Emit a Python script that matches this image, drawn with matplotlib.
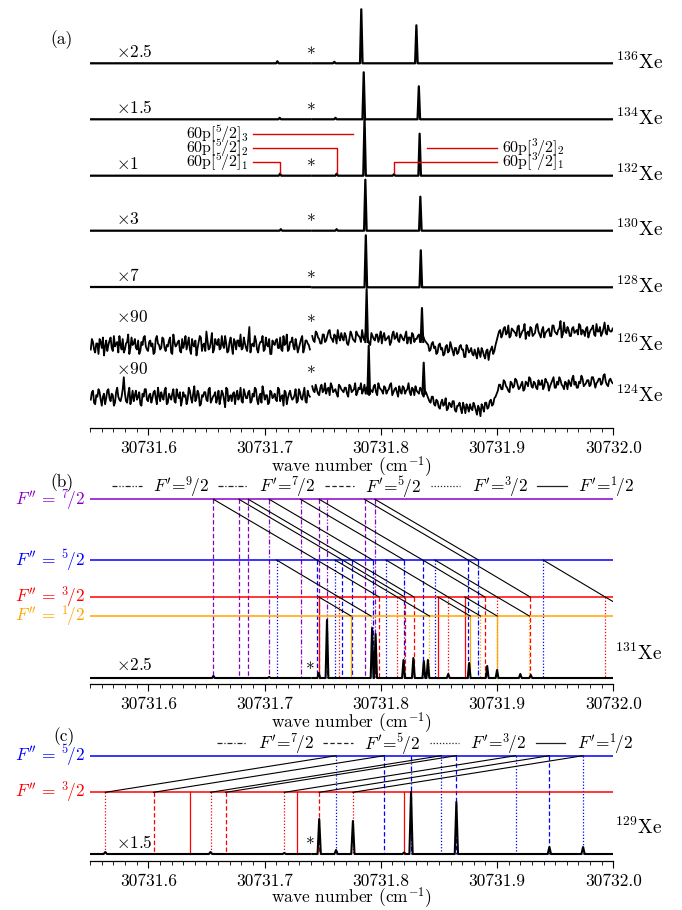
import numpy as np
import matplotlib
matplotlib.use('Agg')
import matplotlib.pyplot as plt
from matplotlib.lines import Line2D
from matplotlib.ticker import MultipleLocator, FormatStrFormatter

plt.rcParams['font.family'] = ['cmr10', 'DejaVu Serif']
plt.rcParams['mathtext.fontset'] = 'cm'
plt.rcParams['axes.unicode_minus'] = False
plt.rcParams['axes.formatter.use_mathtext'] = True

BASE = 30731.0
XMIN, XMAX = 30731.55, 30732.0

# ================= DATA =================
# ---- panel (a): even isotopes (positions are offsets from 30731 cm^-1) ----
iso_mass = ['136', '134', '132', '130', '128', '126', '124']
iso_factor = ['2.5', '1.5', '1', '3', '7', '90', '90']
peak1_pos = [0.7832, 0.7853, 0.7860, 0.7867, 0.7871, 0.7878, 0.7896]
peak1_h = [54, 47, 58, 51, 52, 53, 48]
peak2_pos = [0.8306, 0.8327, 0.8334, 0.8340, 0.8344, 0.8354, 0.8369]
peak2_h = [38, 33, 42, 34, 37, 34, 31]
weak136_pos = [0.711, 0.760]
weak136_h = [2, 1.5]
weak134_pos = [0.713, 0.761]
weak134_h = [1.5, 1.5]
weak132_pos = [0.7133, 0.7620, 0.8113]
weak132_h = [2, 2, 1.5]
weak130_pos = [0.714, 0.762]
weak130_h = [1.5, 1.5]

# noise of the two weak isotopes, in units of 1.5 px of the display
noise126_left = [-3, 2, -5, 1, 4, -2, -7, 3, 0, 5, -4, -1, 2, 6, -3, -5, 1, 7, -2, 0, 4, -3, -6, 2, 5,
                 -1, -4, 3, 1, -5, 6, 0, -2, 4, -4, -1, 5, -6, 2, 0, 3, -5, -2, 6, 1, -3, 4, -1, -7, 2,
                 5, 0, -4, 3, -2, 8, -3, 1, 4, -2, 0, 6, -5, 2, -1, 4, -3, 3, 7, -2, 1, -4, 12, 0, -1,
                 3, -5, 2, 6, -3, 0, 4, -6, 1, 3, -2, 5, -4, 0, 7, -3, 2, -1, 4, -5, 1, 6, -2, 3, 0]
noise126_left_b = [4, -3, 1, -6, 2, 5, -1, -4, 3, -2, 6, 1, -5, 0, 4, -3, 2, -6, 5, 1, -2, 3, -4, 0, 6,
                   -3, 2, -1, -6, 4, 1, -3, 5, -2, 0, 3, -5, 7, -1, 2, -4, 4, 1, -3, 5, -6, 0, 3, -2, 6,
                   -4, 1, 9, -3, 2, -5, 4, 0, -3, 6, -2, 1, -4, 5, -6, 2, 3, -1, -3, 5, -2, 4, -5, 1, 6,
                   -3, 0, 2, -4, 5, -1, -6, 3, 0, 4, -2, -3, 6, 1, -4, 2, 5, -3, 0, -2, 4, -5, 3, 1, -3]
noise126_right = [6, 2, 8, 4, 1, 7, 3, 9, 5, 2, 6, 10, 3, 5, 8, 1, 4, 7, 3, 9, 6, 2, 5, 8, 4,
                  0, 6, 3, 7, 5, 1, 8, 4, 6, 2, 9, 5, 3, 7, 4, 6, 1, 5, 8, 2, 4, 7, 3, 5, 2,
                  0, -3, 2, -1, -5, 1, -2, -6, 0, -4, -1, -7, -2, -5, 0, -3, -8, -2, -4, -6,
                  -3, -9, -5, -2, -7, -4, -10, -3, -6, 0,
                  6, 10, 7, 12, 8, 5, 11, 9, 6, 13, 7, 10, 4, 9, 12, 6, 8, 14, 7, 10, 5, 9, 11, 6, 13,
                  8, 10, 16, 7, 9, 12, 6, 11, 8, 10, 14, 7, 9, 11, 5, 10, 13, 6, 9, 12, 8, 15, 7, 10, 9]
noise126_right_b = [3, 9, 5, 1, 7, 2, 6, 10, 4, 7, 1, 5, 8, 3, 6, 0, 9, 4, 2, 7, 5, 10, 3, 6, 1,
                    8, 4, 7, 2, 9, 6, 3, 5, 0, 7, 4, 8, 2, 6, 3, 9, 5, 1, 7, 4, 6, 2, 8, 3, 1,
                    -4, 1, -2, -6, 0, -3, -7, -1, -5, 2, -4, -2, -6, -1, -3, -8, 0, -5, -2, -7,
                    -6, -2, -8, -4, -9, -3, -5, -1, -4, 3,
                    9, 5, 11, 7, 13, 6, 10, 8, 12, 5, 9, 14, 8, 6, 11, 7, 13, 9, 5, 12, 8, 10, 6, 13, 9,
                    7, 11, 5, 15, 8, 10, 6, 12, 9, 7, 13, 10, 6, 12, 8, 11, 7, 14, 9, 6, 11, 8, 13, 9, 11]
noise124_left = [-2, 4, -5, 0, 3, -6, 2, -1, 5, -3, 1, -4, 6, -2, 0, 13, -3, 2, -5, 4, 1, -2, 3, -6, 0,
                 5, -3, 2, -1, 4, -5, 1, 3, -2, 6, -4, 0, 2, -3, 5, -1, -6, 3, 1, -2, 4, -4, 7, -1, 2,
                 -5, 0, 3, -3, 6, -2, 1, -4, 4, -1, 2, -7, 5, 0, -3, 3, 1, -2, 6, -4, 2, -1, 4, -3, 0,
                 5, -5, 2, 7, -2, 1, -4, 3, 0, -2, 6, -3, 1, 4, -5, 2, 0, -1, 5, -3, 3, -2, 6, -4, 1]
noise124_left_b = [3, -4, 1, 5, -2, 0, -5, 4, -1, 2, -6, 3, 0, -3, 5, 2, -4, 6, -1, -3, 4, 0, -5, 2, 5,
                   -2, 1, -4, 3, -1, 6, -3, 0, 4, -5, 2, -2, 5, -4, 1, 3, -2, 0, -5, 6, -1, 2, -3, 4, -6,
                   1, 3, -2, 5, -4, 0, 3, -1, -5, 4, -2, 6, -3, 1, 2, -5, 4, 0, -3, 5, -1, 3, -4, 2, 6,
                   -2, 0, -4, 3, 1, -5, 4, -1, 2, -3, 5, 0, -6, 3, -1, 4, -2, 1, -4, 5, -1, 2, -3, 4, 0]
noise124_right = [7, 3, 5, 1, 8, 4, 2, 6, 9, 3, 5, 0, 7, 4, 6, 2, 8, 3, 5, 1, 6, 9, 4, 2, 7,
                  5, 3, 8, 1, 6, 4, 7, 2, 5, 9, 3, 6, 0, 4, 7, 2, 5, 3, 6, 1, 4, 2, 5, 0, 3,
                  -1, -4, 0, -6, -3, -8, -2, -5, -9, -4, -7, -3, -10, -6, -8, -4, -11, -7, -5, -9,
                  -6, -12, -8, -5, -10, -4, -7, -2, -5, 0,
                  4, 8, 5, 10, 6, 3, 9, 7, 11, 5, 8, 4, 10, 7, 12, 6, 9, 5, 8, 11, 7, 10, 4, 9, 13,
                  6, 8, 11, 7, 10, 5, 9, 12, 8, 6, 10, 14, 7, 9, 11, 8, 13, 6, 10, 12, 9, 15, 8, 11, 10]
noise124_right_b = [4, 8, 2, 6, 3, 9, 5, 1, 7, 4, 2, 8, 5, 3, 6, 0, 7, 4, 9, 3, 5, 2, 8, 6, 1,
                    4, 7, 3, 9, 5, 2, 6, 4, 8, 1, 5, 3, 7, 2, 6, 4, 9, 1, 5, 7, 3, 6, 2, 4, 1,
                    -3, 0, -5, -2, -7, -4, -6, -1, -8, -5, -3, -9, -6, -4, -11, -7, -5, -10, -8, -4,
                    -9, -6, -13, -7, -4, -8, -3, -6, -1, 2,
                    8, 5, 11, 7, 4, 10, 6, 12, 8, 6, 10, 5, 9, 13, 7, 10, 6, 11, 8, 5, 12, 9, 7, 11, 6,
                    10, 13, 8, 5, 9, 11, 7, 14, 10, 6, 9, 12, 8, 11, 7, 13, 10, 9, 12, 8, 14, 10, 7, 12, 9]
noise_peak_base = [2, 2]   # local level under the peaks for 126, 124 (noise units)

# assignments in 132Xe
assign_names = ['5/2', '5/2', '5/2', '3/2', '3/2']
assign_J = ['3', '2', '1', '2', '1']
assign_pos = [0.7860, 0.7620, 0.7133, 0.8334, 0.8113]

# ---- panel (b): 131Xe ----
b_peak_pos = [0.656, 0.704, 0.7466, 0.7537, 0.7925, 0.7955, 0.8195, 0.828, 0.837, 0.8405,
              0.858, 0.876, 0.8915, 0.900, 0.920, 0.929]
b_peak_h = [2, 1, 5, 58, 50, 44, 18, 20, 17, 18, 4, 15, 12, 8, 4, 3]
b_fprime = ['9/2', '7/2', '7/2', '7/2', '5/2', '5/2', '5/2', '5/2', '5/2',
            '3/2', '3/2', '3/2', '3/2', '3/2', '1/2', '1/2', '1/2']
nan = np.nan
b_w72 = [0.754, 0.704, 0.731, 0.795, 0.656, 0.678, 0.686, 0.747, 0.786,
         nan, nan, nan, nan, nan, nan, nan, nan]
b_w52 = [nan, 0.793, 0.820, 0.884, 0.745, 0.767, 0.775, 0.836, 0.875,
         0.7103, 0.7606, 0.8045, 0.8466, 0.9396, nan, nan, nan]
b_w32 = [nan, nan, nan, nan, 0.7985, 0.8205, 0.8285, 0.8895, 0.9285,
         0.7638, 0.8141, 0.858, 0.9001, 0.9931, 0.7467, 0.8492, 0.8724]
b_w12 = [nan, nan, nan, nan, nan, nan, nan, nan, nan,
         0.7915, 0.8418, 0.8857, 0.9278, 1.0208, 0.7744, 0.8769, 0.9001]

# ---- panel (c): 129Xe ----
c_peak_pos = [0.563, 0.6535, 0.717, 0.747, 0.7615, 0.776, 0.820, 0.826, 0.865, 0.945, 0.974]
c_peak_h = [2, 2, 1, 35, 4, 33, 1.5, 62, 52, 7, 7]
c_fprime = ['7/2', '5/2', '5/2', '5/2', '3/2', '3/2', '3/2', '3/2', '1/2', '1/2', '1/2']
c_w52 = [0.826, 0.803, 0.865, 0.945, 0.7615, 0.852, 0.916, 0.974, nan, nan, nan]
c_w32 = [nan, 0.6045, 0.6665, 0.747, 0.563, 0.6535, 0.717, 0.776, 0.6355, 0.728, 0.820]

# ================= STYLE / LAYOUT =================
FIG_W, FIG_H = 682, 910
PURPLE, BLUE, RED, ORANGE = '#8800c8', '#0000ff', '#ff0000', '#ffa500'
FPP_COLOR = {'7/2': PURPLE, '5/2': BLUE, '3/2': RED, '1/2': ORANGE}
FP_STYLE = {'9/2': (0, (4, 1.5, 1, 1.5, 1, 1.5)), '7/2': (0, (4, 1.5, 1, 1.5)),
            '5/2': (0, (3.5, 2)), '3/2': (0, (1, 1.5)), '1/2': '-'}
FS = 12.5
FS_ISO = 14
FS_ASSIGN = 11.5
NOISE_PX = 1.5


def frac(s):
    n, d = s.split('/')
    return r'{}^{%s}\!/%s' % (n, d)


fig = plt.figure(figsize=(FIG_W / 100, FIG_H / 100), dpi=100)
L, R = 90.2, 613.3


def add_axes(top_px, bottom_px):
    return fig.add_axes([L / FIG_W, 1 - bottom_px / FIG_H, (R - L) / FIG_W,
                         (bottom_px - top_px) / FIG_H])


def setup(ax, ymax, labelpad):
    ax.set_xlim(XMIN, XMAX)
    ax.set_ylim(0, ymax)
    for s in ['left', 'right', 'top']:
        ax.spines[s].set_visible(False)
    ax.spines['bottom'].set_linewidth(0.9)
    ax.set_yticks([])
    ax.xaxis.set_major_locator(MultipleLocator(0.1))
    ax.xaxis.set_minor_locator(MultipleLocator(0.01))
    ax.xaxis.set_major_formatter(FormatStrFormatter('%.1f'))
    ax.tick_params(axis='x', which='major', direction='out', length=5, width=0.8,
                   labelsize=FS, pad=4)
    ax.tick_params(axis='x', which='minor', direction='out', length=3, width=0.6)
    ax.patch.set_alpha(0)
    ax.set_xlabel(r'wave number (cm$^{-1}$)', fontsize=FS, labelpad=labelpad)


def clean_trace(x0, x1, pos, h, hw, base=0.0):
    xs, ys = [x0], [base]
    for c, hh in sorted(zip(pos, h)):
        if x0 < c < x1:
            xs += [c - hw, c, c + hw]
            ys += [base, base + hh, base]
    xs.append(x1)
    ys.append(base)
    return BASE + np.array(xs), np.array(ys, float)


def interleave(a, b):
    return np.ravel(np.column_stack([np.array(a, float), np.array(b, float)]))


SEG_L = (0.5505, 0.7390)
SEG_R = (0.7410, 0.9995)

# ---------------- panel (a) ----------------
axA = add_axes(0.0, 427.7)
setup(axA, 427.7, -1)
a_offsets = [364.4, 308.4, 252.0, 197.0, 140.4, 82.7, 31.0]
weak_pos = [weak136_pos, weak134_pos, weak132_pos, weak130_pos, [], [], []]
weak_h = [weak136_h, weak134_h, weak132_h, weak130_h, [], [], []]
noise_l = [None] * 5 + [interleave(noise126_left, noise126_left_b),
                        interleave(noise124_left, noise124_left_b)]
noise_r = [None] * 5 + [interleave(noise126_right, noise126_right_b),
                        interleave(noise124_right, noise124_right_b)]
for i, m in enumerate(iso_mass):
    off = a_offsets[i]
    pos = [peak1_pos[i], peak2_pos[i]] + weak_pos[i]
    hh = [peak1_h[i], peak2_h[i]] + weak_h[i]
    if noise_l[i] is None:
        for seg in (SEG_L, SEG_R):
            x, y = clean_trace(seg[0], seg[1], pos, hh, 0.0011)
            axA.plot(x, y + off, color='k', lw=1.6)
        lab_dy = 12
        star_dy = 8
    else:
        for seg, vals in ((SEG_L, noise_l[i]), (SEG_R, noise_r[i])):
            x = BASE + np.linspace(seg[0], seg[1], len(vals))
            axA.plot(x, vals * NOISE_PX + off, color='k', lw=1.3)
        b0 = noise_peak_base[i - 5] * NOISE_PX
        for c, hgt in ((peak1_pos[i], peak1_h[i]), (peak2_pos[i], peak2_h[i])):
            x, y = clean_trace(c - 0.002, c + 0.002, [c], [hgt], 0.0011, base=b0)
            axA.plot(x[1:-1], y[1:-1] + off, color='k', lw=1.5)
        lab_dy = 28
        star_dy = 22
    axA.text((116 - L) / (R - L), off + lab_dy, r'$\times$' + iso_factor[i],
             transform=axA.get_yaxis_transform(), fontsize=FS, va='center', ha='left')
    axA.text(1.006, off + 1, r'$^{%s}$Xe' % m, transform=axA.get_yaxis_transform(),
             fontsize=FS_ISO, va='center', ha='left', clip_on=False)
    axA.text(BASE + 0.7405, off + star_dy, '*', fontsize=FS, ha='center', va='center')

# assignment annotations on 132Xe
off132 = a_offsets[2]
txt_right_w = BASE + 0.6859
txt_left_w = BASE + 0.904
a_rows = {'3': 42, '2': 28, '1': 14}  # heights above 132 baseline
for name, J, p in zip(assign_names, assign_J, assign_pos):
    y = off132 + a_rows[J]
    label = r'60p$[%s]_{%s}$' % (frac(name), J)
    if name == '5/2':
        axA.text(txt_right_w, y, label, fontsize=FS_ASSIGN, ha='right', va='center')
        if J == '3':
            axA.plot([BASE + 0.6903, BASE + p - 0.010], [y, y], color='#e00000', lw=1.0)
        else:
            axA.plot([BASE + 0.6903, BASE + p, BASE + p], [y, y, off132 + 2.5],
                     color='#e00000', lw=1.0)
    else:
        axA.text(txt_left_w, y, label, fontsize=FS_ASSIGN, ha='left', va='center')
        if J == '2':
            axA.plot([BASE + p + 0.0066, BASE + 0.9003], [y, y], color='#e00000', lw=1.0)
        else:
            axA.plot([BASE + p, BASE + p, BASE + 0.9003], [off132 + 2.5, y, y],
                     color='#e00000', lw=1.0)

fig.text(62 / FIG_W, 1 - 40 / FIG_H, '(a)', fontsize=FS, ha='center', va='center')


# ---------------- level diagram helper ----------------
def level_panel(ax, levels, table, fprime, base_y):
    for key, yv in levels.items():
        ax.axhline(yv, color=FPP_COLOR[key], lw=1.1, zorder=2)
        ax.text(-0.011, yv, r'$F^{\prime\prime}$ = $%s$' % frac(key), color=FPP_COLOR[key],
                transform=ax.get_yaxis_transform(), fontsize=FS, ha='right', va='center')
    keys = list(levels.keys())
    for j, fp in enumerate(fprime):
        pts = []
        for key in keys:
            w = table[key][j]
            if not np.isnan(w):
                pts.append((BASE + w, levels[key]))
                ax.plot([BASE + w, BASE + w], [levels[key], base_y], color=FPP_COLOR[key],
                        lw=0.9, ls=FP_STYLE[fp], zorder=1)
        if len(pts) > 1:
            xs, ys = zip(*pts)
            ax.plot(xs, ys, color='k', lw=0.8, zorder=3)


def legend(ax, keys, left_px, y_px):
    handles = [Line2D([], [], color='#222222', lw=0.9, ls=FP_STYLE[k]) for k in keys]
    labels = [r'$F^{\prime}\!=\!%s$' % frac(k) for k in keys]
    ax.legend(handles, labels, ncol=len(keys), loc='center left',
              bbox_to_anchor=(left_px / FIG_W, 1 - y_px / FIG_H), bbox_transform=fig.transFigure,
              frameon=False, fontsize=FS, handlelength=1.7, handletextpad=0.65,
              columnspacing=0.55, borderpad=0, borderaxespad=0)


# ---------------- panel (b) ----------------
axB = add_axes(470.0, 684.0)
setup(axB, 214.0, -1)
b_base = 6.0
b_levels = {'7/2': 184.7, '5/2': 124.0, '3/2': 87.0, '1/2': 68.0}
level_panel(axB, b_levels, {'7/2': b_w72, '5/2': b_w52, '3/2': b_w32, '1/2': b_w12},
            b_fprime, b_base)
for seg in (SEG_L, SEG_R):
    x, y = clean_trace(seg[0], seg[1], b_peak_pos, b_peak_h, 0.0012, base=b_base)
    axB.plot(x, y, color='k', lw=1.5, zorder=4)
axB.text((116 - L) / (R - L), 19, r'$\times$2.5', transform=axB.get_yaxis_transform(),
         fontsize=FS, ha='left', va='center')
axB.text(BASE + 0.7395, 14, '*', fontsize=FS, ha='center', va='center')
axB.text(1.004, 31, r'$^{131}$Xe', transform=axB.get_yaxis_transform(), fontsize=FS_ISO,
         ha='left', va='center')
legend(axB, ['9/2', '7/2', '5/2', '3/2', '1/2'], 112, 487)
fig.text(62 / FIG_W, 1 - 483 / FIG_H, '(b)', fontsize=FS, ha='center', va='center')

# ---------------- panel (c) ----------------
axC = add_axes(728.0, 861.0)
setup(axC, 133.0, -3)
c_base = 7.0
c_levels = {'5/2': 105.3, '3/2': 68.7}
level_panel(axC, c_levels, {'5/2': c_w52, '3/2': c_w32}, c_fprime, c_base)
for seg in (SEG_L, SEG_R):
    x, y = clean_trace(seg[0], seg[1], c_peak_pos, c_peak_h, 0.0014, base=c_base)
    axC.plot(x, y, color='k', lw=1.5, zorder=4)
axC.text((116 - L) / (R - L), 19, r'$\times$1.5', transform=axC.get_yaxis_transform(),
         fontsize=FS, ha='left', va='center')
axC.text(BASE + 0.7395, 15.6, '*', fontsize=FS, ha='center', va='center')
axC.text(1.004, 34, r'$^{129}$Xe', transform=axC.get_yaxis_transform(), fontsize=FS_ISO,
         ha='left', va='center')
legend(axC, ['7/2', '5/2', '3/2', '1/2'], 217, 744)
fig.text(64 / FIG_W, 1 - 737 / FIG_H, '(c)', fontsize=FS, ha='center', va='center')

fig.savefig('out.png', dpi=100)
